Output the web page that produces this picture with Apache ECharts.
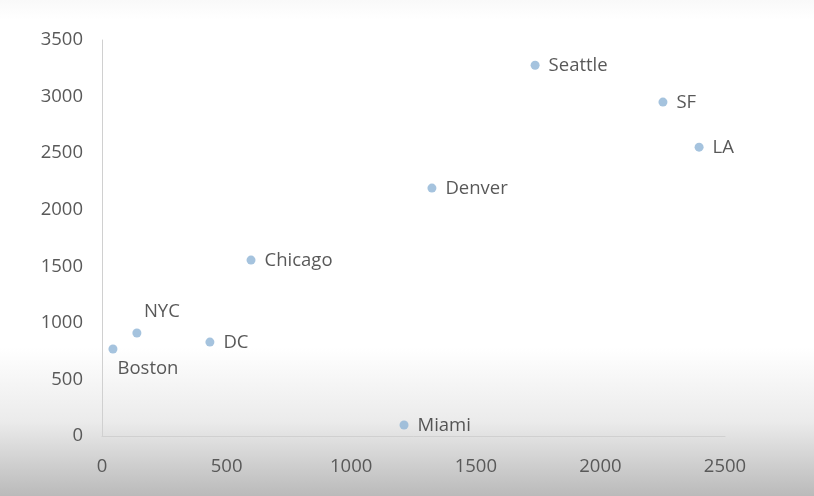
<!DOCTYPE html>
<html>
<head>
<meta charset="utf-8">
<script src="https://cdn.jsdelivr.net/npm/echarts@6/dist/echarts.min.js"></script>
<style>html,body{margin:0;padding:0;}#c{width:814px;height:496px;}</style>
</head>
<body>
<div id="c"></div>
<script>
const cities = ['Boston','NYC','DC','Chicago','Miami','Denver','Seattle','SF','LA'];
const xValues = [44, 140, 433, 598, 1212, 1324, 1738, 2251, 2396];
const yValues = [769, 910, 830, 1555, 97, 2191, 3277, 2951, 2553];
const xTicks = [0, 500, 1000, 1500, 2000, 2500];
const yTicks = [0, 500, 1000, 1500, 2000, 2500, 3000, 3500];

const labelStyles = {
  Boston: {position: 'bottom', offset: [35, -3]},
  NYC: {position: 'top', offset: [25, 2]}
};

const data = cities.map((c, i) => {
  const d = {name: c, value: [xValues[i], yValues[i]]};
  if (labelStyles[c]) d.label = labelStyles[c];
  return d;
});

const chart = echarts.init(document.getElementById('c'));
chart.setOption({
  backgroundColor: {
    type: 'linear', x: 0, y: 0, x2: 0, y2: 1,
    colorStops: [
      {offset: 0, color: '#f9f9f9'},
      {offset: 0.04, color: '#ffffff'},
      {offset: 0.7, color: '#ffffff'},
      {offset: 0.85, color: '#ebebeb'},
      {offset: 1, color: '#bababa'}
    ]
  },
  animation: false,
  grid: {left: 102, right: 89, top: 40, bottom: 60, containLabel: false},
  xAxis: {
    type: 'value', min: xTicks[0], max: xTicks[xTicks.length - 1], interval: 500,
    axisLine: {show: true, lineStyle: {color: '#d0d0d0', width: 1}},
    axisTick: {show: false},
    splitLine: {show: false},
    axisLabel: {color: '#595959', fontSize: 18.5, fontFamily: 'Open Sans', margin: 21, formatter: v => String(v)}
  },
  yAxis: {
    type: 'value', min: yTicks[0], max: yTicks[yTicks.length - 1], interval: 500,
    axisLine: {show: true, lineStyle: {color: '#d0d0d0', width: 1}},
    axisTick: {show: false},
    splitLine: {show: false},
    axisLabel: {color: '#595959', fontSize: 18.5, fontFamily: 'Open Sans', margin: 19, formatter: v => String(v)}
  },
  series: [{
    type: 'scatter',
    symbolSize: 9,
    itemStyle: {color: '#8fb4d6'},
    label: {
      show: true, position: 'right', distance: 9, offset: [0, 1],
      formatter: '{b}', color: '#2e2e2e', fontSize: 18.5, fontFamily: 'Open Sans'
    },
    data: data
  }]
});
</script>
</body>
</html>
